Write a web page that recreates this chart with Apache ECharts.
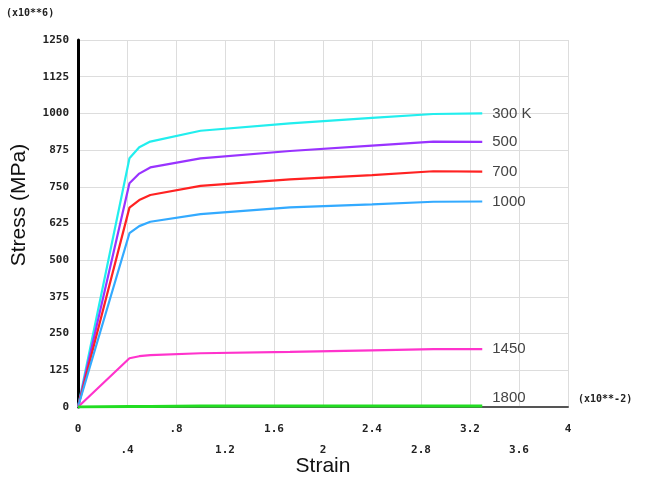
<!DOCTYPE html>
<html>
<head>
<meta charset="utf-8">
<script src="https://cdn.jsdelivr.net/npm/echarts@6/dist/echarts.min.js"></script>
<style>
html,body{margin:0;padding:0;background:#fff;}
#chart{width:648px;height:478px;}
</style>
</head>
<body>
<div id="chart"></div>
<script>
// strain (x10**-2) and stress (MPa)
var strain = [0, 0.42, 0.5, 0.59, 1.0, 1.73, 2.4, 2.9, 3.3];
var s300  = [0, 847, 885, 904, 941, 966, 985, 998, 1000];
var s500  = [0, 762, 795, 816, 847, 872, 890, 904, 903];
var s700  = [0, 679, 705, 722, 753, 775, 790, 803, 802];
var s1000 = [0, 592, 616, 631, 657, 680, 690, 699, 700];
var s1450 = [0, 166, 173, 177, 183, 188, 193, 197, 197];
var s1800 = [0, 2, 2, 2, 3, 3, 3, 3, 3];
var names = ['300 K', '500', '700', '1000', '1450', '1800'];
var colors = ['#22eeee', '#9933ff', '#ff2222', '#33aaff', '#ff33cc', '#22dd22'];

var chart = echarts.init(document.getElementById('chart'));
var monoFont = '"DejaVu Sans Mono", monospace';
var sansFont = '"Liberation Sans", Arial, sans-serif';

function pairs(ys) {
    var out = [];
    for (var i = 0; i < strain.length; i++) out.push([strain[i], ys[i]]);
    return out;
}

var allData = [s300, s500, s700, s1000, s1450, s1800];
var series = [];
for (var k = 0; k < allData.length; k++) {
    series.push({
        name: names[k],
        type: 'line',
        data: pairs(allData[k]),
        showSymbol: false,
        lineStyle: { color: colors[k], width: k == 5 ? 3 : 2.2 },
        itemStyle: { color: colors[k] },
        endLabel: {
            show: true,
            formatter: '{a}',
            color: '#444',
            fontSize: 15,
            fontFamily: sansFont,
            distance: 10,
            offset: k == 5 ? [0, -8] : [0, 0]
        }
    });
}

var option = {
    animation: false,
    grid: { left: 78, top: 40, right: 80, bottom: 71, containLabel: false, outerBoundsMode: 'none' },
    xAxis: {
        type: 'value',
        min: 0, max: 4, interval: 0.4,
        name: 'Strain',
        nameLocation: 'middle',
        nameGap: 49,
        nameMoveOverlap: false,
        nameTextStyle: { fontSize: 21, color: '#111', fontFamily: sansFont },
        axisLine: { show: true, lineStyle: { color: '#555', width: 2 } },
        axisTick: { show: false },
        splitLine: { show: true, lineStyle: { color: '#dddddd', width: 1 } },
        axisLabel: {
            color: '#222',
            fontSize: 11,
            fontWeight: 'bold',
            fontFamily: monoFont,
            margin: 12,
            lineHeight: 21,
            formatter: function (v, i) {
                var t = String(Math.round(v * 10) / 10);
                if (t.charAt(0) == '0' && t.length > 1) t = t.substring(1);
                return (i % 2 == 1) ? '\n' + t : t;
            }
        }
    },
    yAxis: {
        type: 'value',
        min: 0, max: 1250, interval: 125,
        axisLine: { show: true, lineStyle: { color: '#000', width: 3 } },
        axisTick: { show: false },
        splitLine: { show: true, lineStyle: { color: '#dddddd', width: 1 } },
        axisLabel: {
            color: '#222',
            fontSize: 11,
            fontWeight: 'bold',
            fontFamily: monoFont,
            margin: 9,
            formatter: function (v) { return String(v); }
        }
    },
    graphic: [
        { type: 'text', left: 6, top: 8,
          style: { text: '(x10**6)', fontSize: 10, fontWeight: 'bold', fontFamily: monoFont, fill: '#222' } },
        { type: 'text', left: 578, top: 394,
          style: { text: '(x10**-2)', fontSize: 10, fontWeight: 'bold', fontFamily: monoFont, fill: '#222' } },
        { type: 'text', x: 19, y: 205, rotation: Math.PI / 2,
          style: { text: 'Stress (MPa)', fontSize: 21, fontFamily: sansFont, fill: '#111',
                   align: 'center', verticalAlign: 'middle' } }
    ],
    series: series
};

chart.setOption(option);
</script>
</body>
</html>
